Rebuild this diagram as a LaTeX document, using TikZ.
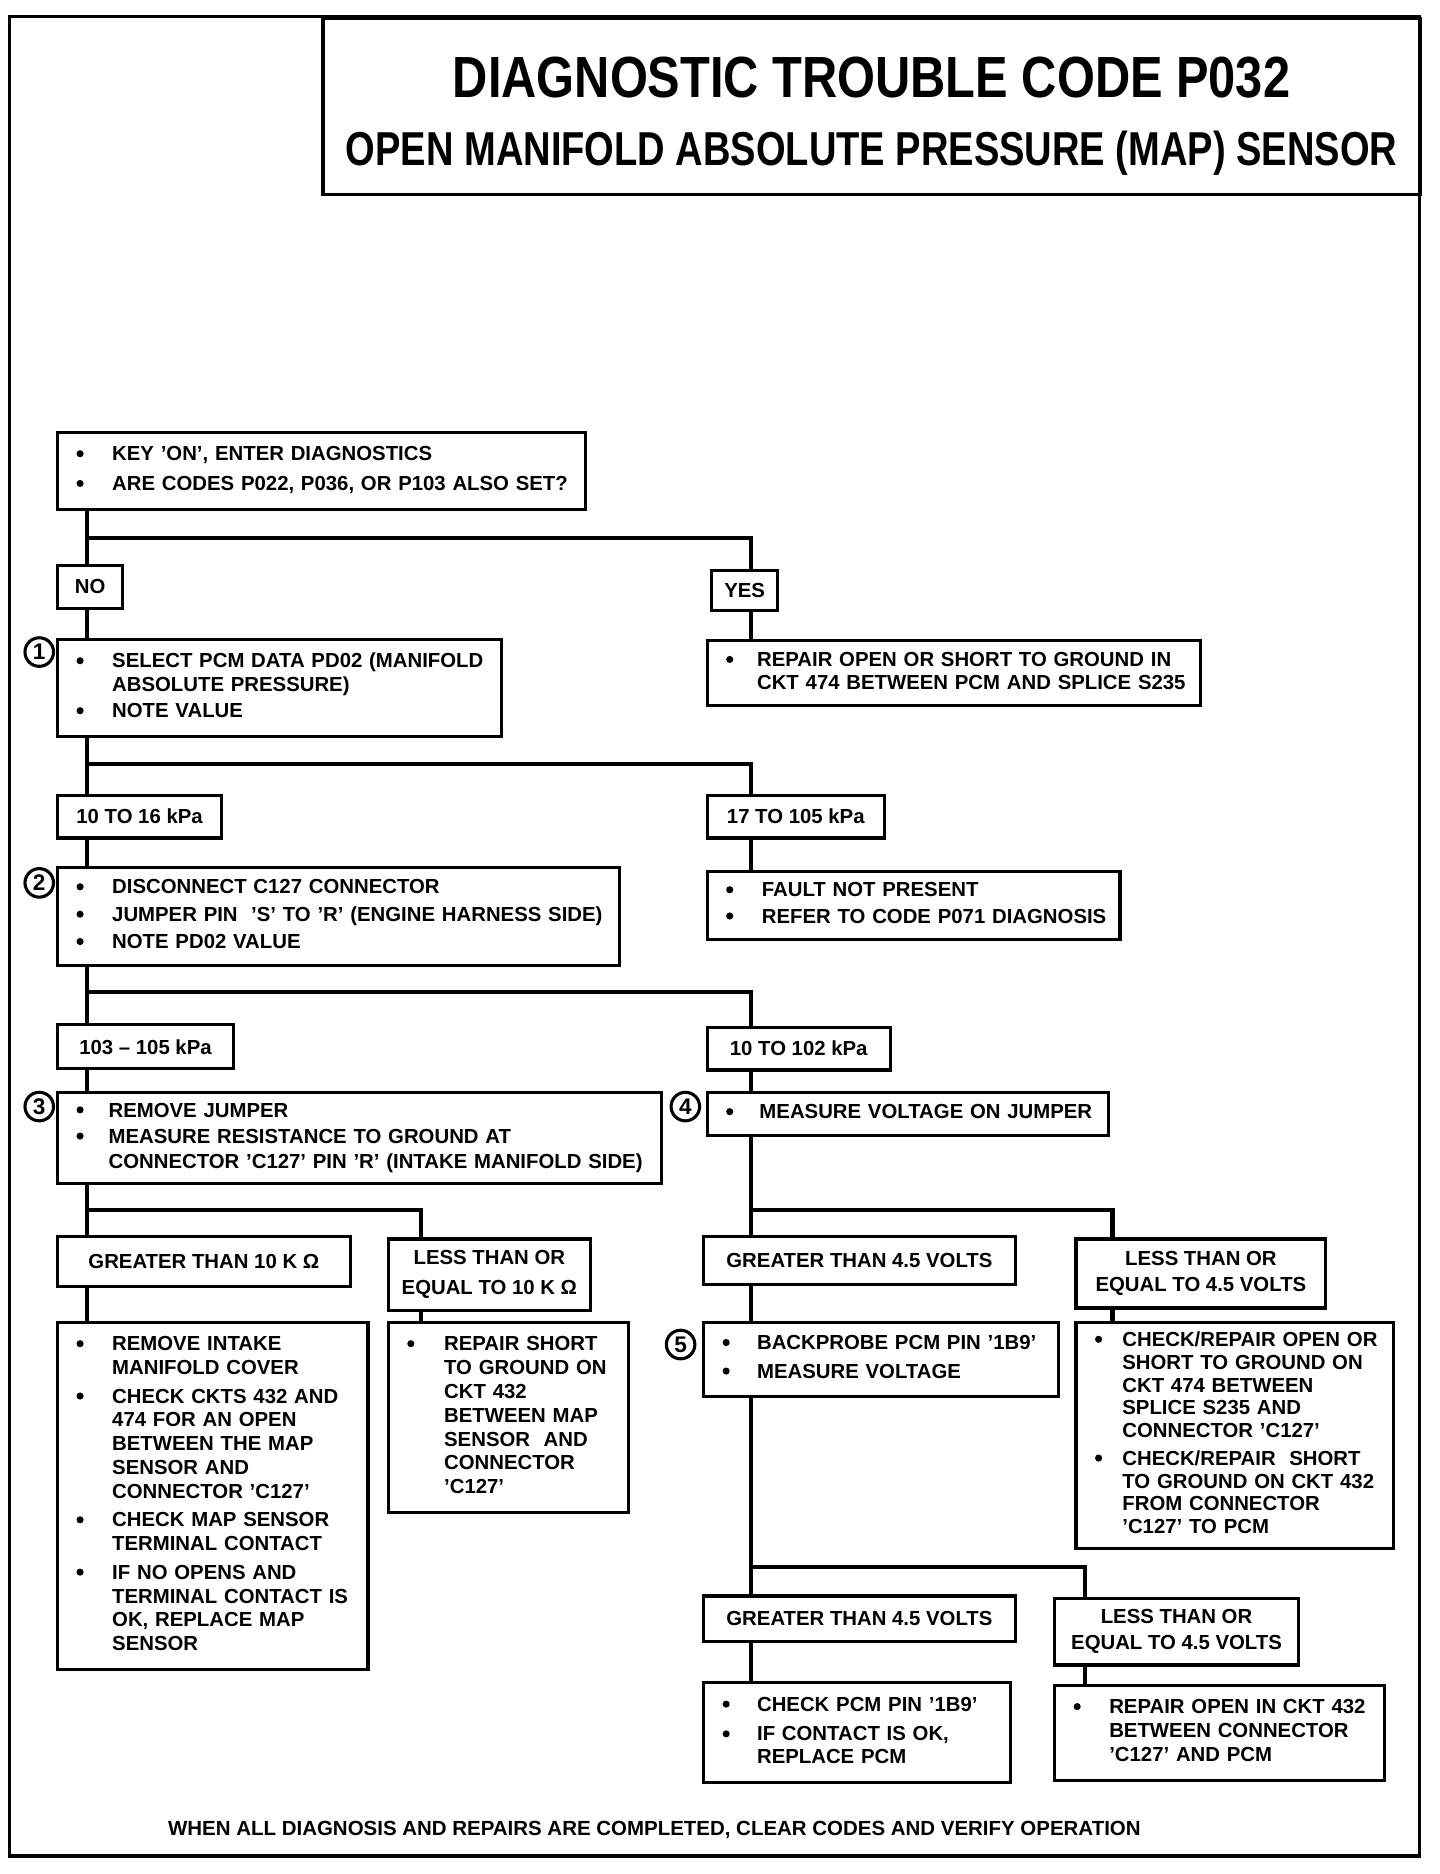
\documentclass[tikz,border=0pt]{standalone}
\usepackage{fontspec}
\setmainfont{Liberation Sans}
\usepackage{graphicx}
\newcommand{\bodyfont}{\fontsize{8.55}{10}\selectfont\bfseries}
\newcommand{\blt}{\tikz[baseline=-3pt]\fill (0,0) circle (1.5pt);}
\newcommand{\steps}[2][15pt]{\begin{tabular}{@{}p{#1}@{}l@{}}#2\end{tabular}}
\tikzset{
  frame/.style={line width=1.5pt},
  box/.style={draw, line width=1.3pt, anchor=north west, inner xsep=8pt, inner ysep=0pt, align=left, font=\bodyfont},
  tag/.style={draw, line width=1.3pt, anchor=north west, inner sep=0pt, align=center, font=\bodyfont},
  num/.style={draw, circle, line width=1.3pt, inner sep=0pt, minimum size=12pt, font=\fontsize{9.5}{10}\selectfont\bfseries},
  link/.style={line width=1.8pt},
}
\begin{document}
\begin{tikzpicture}[x=0.5pt, y=-0.5pt]
\useasboundingbox (0,0) rectangle (1210,1575);
% page frame and heading
\draw[frame] (8,14) rectangle (1193,1560);
\node[draw, line width=1.5pt, anchor=north west, minimum width=461pt, minimum height=74pt, inner sep=0pt, align=center,
  font=\fontsize{20}{28.5}\selectfont\bfseries] (title) at (270,14)
  {{\fontsize{24.4}{28.5}\selectfont\rule{0pt}{25pt}\scalebox{0.84}[1]{DIAGNOSTIC TROUBLE CODE P032}}\\
   {\scalebox{0.8}[1]{OPEN MANIFOLD ABSOLUTE PRESSURE (MAP) SENSOR}}};

% trunk lines and branch points
\coordinate (L) at (73,0);
\coordinate (R) at (631,0);
\coordinate (j1) at (631,452);
\coordinate (j2) at (631,642);
\coordinate (j3) at (631,834);
\coordinate (j4) at (354,1017);
\coordinate (j5) at (935,1017);
\coordinate (j6) at (912,1317);

% step boxes
\node[box, text width=206pt, minimum height=32.5pt] (start) at (47,362)
  {\steps{\blt & KEY 'ON', ENTER DIAGNOSTICS\\[2.5pt]
          \blt & ARE CODES P022, P036, OR P103 ALSO SET?}};
\node[tag, minimum width=27.5pt, minimum height=18pt] (no) at (47,474) {NO};
\node[tag, minimum width=27.5pt, minimum height=17pt] (yes) at (597,478) {YES};
\node[box, text width=170.5pt, minimum height=41pt] (sel) at (47,536)
  {\steps{\blt & SELECT PCM DATA PD02 (MANIFOLD\\
               & ABSOLUTE PRESSURE)\\[1pt]
          \blt & NOTE VALUE}};
\node[box, text width=191.5pt, minimum height=27.5pt] (rep) at (593,537)
  {\steps[13pt]{\blt & REPAIR OPEN OR SHORT TO GROUND IN\\[-0.4pt]
                     & CKT 474 BETWEEN PCM AND SPLICE S235}};
\node[tag, minimum width=69pt, minimum height=18pt] (lo) at (47,667) {10 TO 16 kPa};
\node[tag, minimum width=74.5pt, minimum height=18pt] (hi) at (593,667) {17 TO 105 kPa};
\node[box, text width=220pt, minimum height=41pt] (jmp) at (47,728)
  {\steps{\blt & DISCONNECT C127 CONNECTOR\\[1.5pt]
          \blt & JUMPER PIN\ \ 'S' TO 'R' (ENGINE HARNESS SIDE)\\[1.5pt]
          \blt & NOTE PD02 VALUE}};
\node[box, text width=157.5pt, minimum height=28.5pt] (fnp) at (593,731)
  {\steps{\blt & FAULT NOT PRESENT\\[1pt]
          \blt & REFER TO CODE P071 DIAGNOSIS}};
\node[tag, minimum width=74pt, minimum height=18.5pt] (full) at (47,860) {103 -- 105 kPa};
\node[tag, minimum width=77pt, minimum height=18pt] (part) at (593,862) {10 TO 102 kPa};
\node[box, text width=238pt, minimum height=38pt] (res) at (47,917)
  {\steps[13.5pt]{\blt & REMOVE JUMPER\\[1pt]
                  \blt & MEASURE RESISTANCE TO GROUND AT\\[0.5pt]
                       & CONNECTOR 'C127' PIN 'R' (INTAKE MANIFOLD SIDE)}};
\node[box, text width=152.5pt, minimum height=18pt] (volt) at (593,917)
  {\steps[14pt]{\blt & MEASURE VOLTAGE ON JUMPER}};

% resistance branch
\node[tag, minimum width=123pt, minimum height=21pt] (rhi) at (47,1038) {GREATER THAN 10 K Ω};
\node[tag, minimum width=85pt, minimum height=30pt] (rlo) at (325,1040) {LESS THAN OR\\[2.5pt] EQUAL TO 10 K Ω};
\node[box, text width=114.5pt, minimum height=146pt] (open) at (47,1110)
  {\steps{\blt & REMOVE INTAKE\\
               & MANIFOLD COVER\\[2pt]
          \blt & CHECK CKTS 432 AND\\
               & 474 FOR AN OPEN\\
               & BETWEEN THE MAP\\
               & SENSOR AND\\
               & CONNECTOR 'C127'\\[2pt]
          \blt & CHECK MAP SENSOR\\
               & TERMINAL CONTACT\\[2pt]
          \blt & IF NO OPENS AND\\
               & TERMINAL CONTACT IS\\
               & OK, REPLACE MAP\\
               & SENSOR}};
\node[box, text width=85pt, minimum height=80pt] (short) at (325,1110)
  {\steps[15.5pt]{\blt & REPAIR SHORT\\
                       & TO GROUND ON\\
                       & CKT 432\\
                       & BETWEEN MAP\\
                       & SENSOR\ \ AND\\
                       & CONNECTOR\\
                       & 'C127'}};

% voltage branch
\node[tag, minimum width=131pt, minimum height=20pt] (vhi) at (590,1038) {GREATER THAN 4.5 VOLTS};
\node[tag, minimum width=105pt, minimum height=29pt] (vlo) at (903,1040) {LESS THAN OR\\[1pt] EQUAL TO 4.5 VOLTS};
\node[box, text width=133pt, minimum height=31pt] (probe) at (590,1110)
  {\steps[14.5pt]{\blt & BACKPROBE PCM PIN '1B9'\\[2pt]
                  \blt & MEASURE VOLTAGE}};
\node[box, text width=117.5pt, minimum height=95pt] (harn) at (903,1110)
  {\steps[11.5pt]{\blt & CHECK/REPAIR OPEN OR\\[-0.4pt]
                       & SHORT TO GROUND ON\\[-0.4pt]
                       & CKT 474 BETWEEN\\[-0.4pt]
                       & SPLICE S235 AND\\[-0.4pt]
                       & CONNECTOR 'C127'\\[1.5pt]
                  \blt & CHECK/REPAIR\ \ SHORT\\[-0.4pt]
                       & TO GROUND ON CKT 432\\[-0.4pt]
                       & FROM CONNECTOR\\[-0.4pt]
                       & 'C127' TO PCM}};
\node[tag, minimum width=131pt, minimum height=19pt] (phi) at (590,1340) {GREATER THAN 4.5 VOLTS};
\node[tag, minimum width=102.5pt, minimum height=28pt] (plo) at (885,1342) {LESS THAN OR\\[1pt] EQUAL TO 4.5 VOLTS};
\node[box, text width=113pt, minimum height=42pt] (pcm) at (590,1413)
  {\steps[14.5pt]{\blt & CHECK PCM PIN '1B9'\\[2.5pt]
                  \blt & IF CONTACT IS OK,\\[-0.4pt]
                       & REPLACE PCM}};
\node[box, text width=122.5pt, minimum height=40pt] (wire) at (885,1415)
  {\steps{\blt & REPAIR OPEN IN CKT 432\\
               & BETWEEN CONNECTOR\\
               & 'C127' AND PCM}};

% step numbers
\node[num] (n1) at (33,548) {1};
\node[num] (n2) at (33,742) {2};
\node[num] (n3) at (33,930) {3};
\node[num] (n4) at (576,930) {4};
\node[num] (n5) at (572,1130) {5};

\node[font=\fontsize{8.6}{10}\selectfont\bfseries] (note) at (550,1538)
  {WHEN ALL DIAGNOSIS AND REPAIRS ARE COMPLETED, CLEAR CODES AND VERIFY OPERATION};

% connectors
\foreach \a/\b/\c in {start/no/L, no/sel/L, sel/lo/L, lo/jmp/L, jmp/full/L, full/res/L, res/rhi/L, rhi/open/L,
                      yes/rep/R, hi/fnp/R, part/volt/R, volt/vhi/R, vhi/probe/R, probe/phi/R, phi/pcm/R,
                      rlo/short/j4, vlo/harn/j5, plo/wire/j6}
  \draw[link] (\a.south -| \c) -- (\b.north -| \c);
\draw[link] (start.south -| L) |- (j1) -- (yes.north -| j1);
\draw[link] (sel.south -| L) |- (j2) -- (hi.north -| j2);
\draw[link] (jmp.south -| L) |- (j3) -- (part.north -| j3);
\draw[link] (res.south -| L) |- (j4) -- (rlo.north -| j4);
\draw[link] (volt.south -| R) |- (j5) -- (vlo.north -| j5);
\draw[link] (probe.south -| R) |- (j6) -- (plo.north -| j6);
\end{tikzpicture}
\end{document}
